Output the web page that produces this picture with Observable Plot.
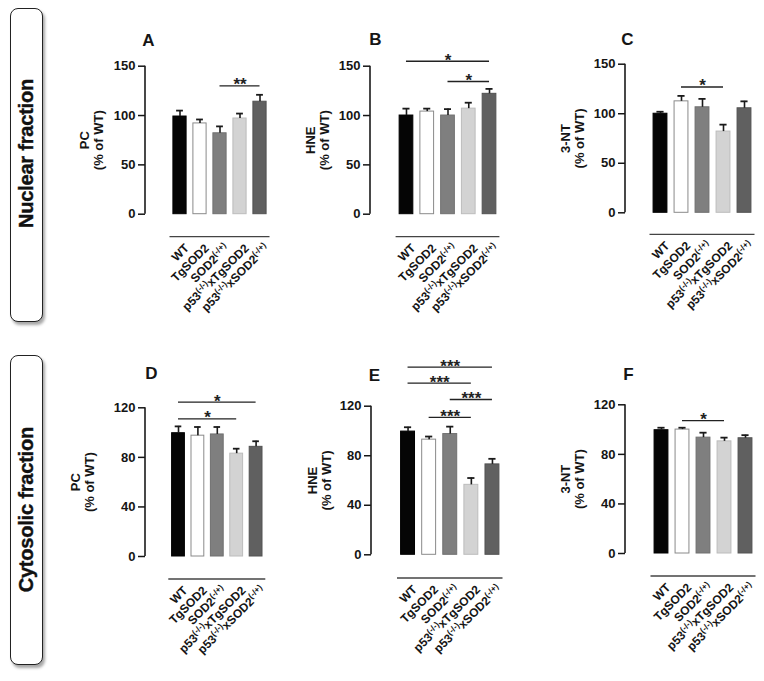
<!DOCTYPE html>
<html>
<head>
<meta charset="utf-8">
<script src="https://cdn.jsdelivr.net/npm/d3@7"></script>
<script src="https://cdn.jsdelivr.net/npm/@observablehq/plot@0.6"></script>
<style>
  html, body { margin: 0; padding: 0; background: #fff; }
  #page { position: relative; width: 764px; height: 681px; overflow: hidden; background: #fff;
          font-family: "Liberation Sans", Arial, sans-serif; }
  .panel { position: absolute; }
  .rowbox { position: absolute; border: 1.5px solid #222; border-radius: 8px; box-sizing: border-box;
            box-shadow: 2px 3px 3px rgba(0,0,0,0.35); background: #fff;
            display: flex; align-items: center; justify-content: center; }
  .rowbox span { writing-mode: vertical-rl; transform: rotate(180deg); font-weight: bold; font-size: 20px;
                 color: #111; white-space: nowrap; letter-spacing: -0.2px; -webkit-text-stroke: 0.4px #111; }
</style>
</head>
<body>
<div id="page"></div>
<script>
// ---------------- data ----------------
const groups = ["WT", "TgSOD2", "SOD2^(-/+)", "p53^(-/-)xTgSOD2", "p53^(-/-)xSOD2^(-/+)"];
const rowLabels = ["Nuclear fraction", "Cytosolic fraction"];
const letters = ["A", "B", "C", "D", "E", "F"];
const yLabels = ["PC\n(% of WT)", "HNE\n(% of WT)", "3-NT\n(% of WT)", "PC\n(% of WT)", "HNE\n(% of WT)", "3-NT\n(% of WT)"];
const ticksNuclear = [0, 50, 100, 150];
const ticksCytosolic = [0, 40, 80, 120];

// means and SEM (% of WT)
const pcNucMean  = [99, 92, 82, 97, 114];
const pcNucSem   = [6, 4, 7, 5, 7];
const hneNucMean = [100, 104, 100, 107, 122];
const hneNucSem  = [7, 3, 6.5, 6, 5];
const ntNucMean  = [100, 112.5, 106.5, 82, 105.5];
const ntNucSem   = [2, 5.5, 8.5, 7, 7];
const pcCytMean  = [99.5, 97.5, 98.5, 83, 88.5];
const pcCytSem   = [5.5, 7, 6, 4, 4.5];
const hneCytMean = [99.5, 93, 97.5, 56.5, 73];
const hneCytSem  = [3.5, 2.5, 6, 5.5, 4.5];
const ntCytMean  = [99.5, 100, 93.5, 90.5, 93];
const ntCytSem   = [2, 1.5, 4, 3, 2.5];

// significance brackets: [from group, to group, height, label]
const sigA = [[2, 4, 130, "**"]];
const sigB = [[0, 4, 155, "*"], [2, 4, 134.5, "*"]];
const sigC = [[1, 3, 127, "*"]];
const sigD = [[0, 4, 124.5, "*"], [0, 3, 111, "*"]];
const sigE = [[0, 4, 151.5, "***"], [0, 3, 138.6, "***"], [2, 4, 125.4, "***"], [1, 3, 111, "***"]];
const sigF = [[1, 3, 107.3, "*"]];

// ---------------- styles / layout ----------------
const barFill   = ["#050505", "#ffffff", "#7f7f7f", "#d3d3d3", "#606060"];
const barStroke = ["#000000", "#8a8a8a", "#707070", "#bcbcbc", "#525252"];
const FONT = '"Liberation Sans", Arial, sans-serif';

const layout = [
  {ox: 50,  oy: 0,   w: 235, h: 340, axisX: 145, y0: 213.7, yTop: 65.7, r0: 169.5, r1: 269.5, lineY: 236.7, labDx: -54, lx: 3, ly: -25.7},
  {ox: 285, oy: 0,   w: 235, h: 340, axisX: 370, y0: 213.7, yTop: 65.7, r0: 395.6, r1: 499.4, lineY: 236.7, labDx: -53, lx: 5, ly: -26.7},
  {ox: 520, oy: 0,   w: 244, h: 340, axisX: 625, y0: 212.3, yTop: 63.7, r0: 649.5, r1: 754.5, lineY: 234.3, labDx: -53, lx: 2, ly: -24.7},
  {ox: 50,  oy: 340, w: 235, h: 341, axisX: 145, y0: 556.0, yTop: 407.3, r0: 168.3, r1: 265.3, lineY: 579.0, labDx: -63, lx: 6, ly: -34},
  {ox: 285, oy: 340, w: 235, h: 341, axisX: 371, y0: 554.3, yTop: 405.7, r0: 397.0, r1: 502.5, lineY: 578.0, labDx: -52, lx: 3, ly: -30.7},
  {ox: 520, oy: 340, w: 244, h: 341, axisX: 625, y0: 553.0, yTop: 404.3, r0: 650.5, r1: 755.5, lineY: 576.0, labDx: -53, lx: 3, ly: -30.3}
];
const rowBoxes = [
  {left: 10, top: 8, width: 33, height: 314, padBottom: 22},
  {left: 10, top: 355, width: 33, height: 310, padBottom: 0}
];

const page = document.getElementById("page");

// row label boxes
rowLabels.forEach((t, k) => {
  const b = rowBoxes[k];
  const div = document.createElement("div");
  div.className = "rowbox";
  Object.assign(div.style, {left: b.left + "px", top: b.top + "px", width: b.width + "px", height: b.height + "px", paddingBottom: b.padBottom + "px"});
  const span = document.createElement("span");
  span.textContent = t;
  div.appendChild(span);
  page.appendChild(div);
});

function superscriptLabels(svg) {
  svg.querySelectorAll('g[aria-label="x-axis tick label"] text').forEach((node) => {
    const raw = node.textContent;
    const parts = raw.split(/\^(\([^)]*\))/);
    while (node.firstChild) node.removeChild(node.firstChild);
    let raised = false;
    parts.forEach((p, k) => {
      if (!p) return;
      const ts = document.createElementNS("http://www.w3.org/2000/svg", "tspan");
      ts.textContent = p;
      if (k % 2 === 1) {
        ts.setAttribute("font-size", "8.5");
        ts.setAttribute("dy", "-4.5");
        raised = true;
      } else if (raised) {
        ts.setAttribute("dy", "4.5");
        raised = false;
      }
      node.appendChild(ts);
    });
  });
}

function drawPanel(k, means, sems, sig, ticks) {
  const cfg = layout[k];
  const ymax = ticks[ticks.length - 1];
  const data = groups.map((g, i) => ({i, group: g, mean: means[i], sem: sems[i]}));
  const sigData = sig.map(([a, b, h, t]) => ({a, b, h, t}));
  const plot = Plot.plot({
    width: cfg.w,
    height: cfg.h,
    marginLeft: cfg.axisX - cfg.ox,
    marginTop: cfg.yTop - cfg.oy,
    marginBottom: cfg.oy + cfg.h - cfg.y0,
    marginRight: cfg.ox + cfg.w - cfg.r1,
    x: {domain: [-0.5, groups.length - 0.5], range: [cfg.r0 - cfg.ox, cfg.r1 - cfg.ox]},
    y: {domain: [0, ymax]},
    color: {type: "identity"},
    style: {background: "transparent", fontFamily: FONT, color: "#151515", overflow: "visible"},
    marks: [
      Plot.rect(data, {x1: (d) => d.i - 0.33, x2: (d) => d.i + 0.33, y1: 0, y2: "mean",
                       fill: (d) => barFill[d.i], stroke: (d) => barStroke[d.i], strokeWidth: 1}),
      Plot.ruleX(data, {x: "i", y1: "mean", y2: (d) => d.mean + d.sem, stroke: "#1a1a1a", strokeWidth: 1.6}),
      Plot.ruleY(data, {y: (d) => d.mean + d.sem, x1: (d) => d.i - 0.17, x2: (d) => d.i + 0.17, stroke: "#1a1a1a", strokeWidth: 1.8}),
      Plot.ruleY(sigData, {y: "h", x1: "a", x2: "b", stroke: "#222", strokeWidth: 1.3}),
      Plot.text(sigData, {x: (d) => (d.a + d.b) / 2, y: "h", text: "t", dy: -1, fontSize: 17, fontWeight: "bold",
                          fill: "#222", ariaLabel: "significance"}),
      Plot.axisY({ticks, tickSize: 7, tickPadding: 3, fontSize: 13, fontWeight: "bold", label: null, strokeWidth: 1.5}),
      Plot.axisX({ticks: groups.map((g, i) => i), tickFormat: (i) => groups[i], tickRotate: -45, tickSize: 0, tickPadding: 0,
                  label: null, fontSize: 12, fontWeight: "bold", dx: 7, dy: cfg.lineY - cfg.y0 + 9}),
      Plot.text([yLabels[k]], {frameAnchor: "left", text: (d) => d, rotate: -90, dx: cfg.labDx, textAnchor: "middle",
                               lineAnchor: "middle", fontSize: 13, fontWeight: "bold", lineHeight: 1.12}),
      Plot.text([letters[k]], {frameAnchor: "top-left", text: (d) => d, dx: cfg.lx, dy: cfg.ly, textAnchor: "middle",
                               lineAnchor: "middle", fontSize: 17, fontWeight: "bold"})
    ]
  });
  const x = plot.scale("x"), y = plot.scale("y");
  const svg = d3.select(plot);
  svg.selectAll('g[aria-label="significance"] text').attr("letter-spacing", "1.2");
  // y axis line
  svg.append("line")
    .attr("x1", cfg.axisX - cfg.ox).attr("x2", cfg.axisX - cfg.ox)
    .attr("y1", y.apply(0)).attr("y2", y.apply(ymax))
    .attr("stroke", "#1a1a1a").attr("stroke-width", 1.6);
  // grouping line beneath bars
  svg.append("line")
    .attr("x1", x.range[0]).attr("x2", x.range[1])
    .attr("y1", y.apply(0) + (cfg.lineY - cfg.y0)).attr("y2", y.apply(0) + (cfg.lineY - cfg.y0))
    .attr("stroke", "#444").attr("stroke-width", 1.3);
  superscriptLabels(plot);
  plot.classList.add("panel");
  plot.style.left = cfg.ox + "px";
  plot.style.top = cfg.oy + "px";
  plot.style.position = "absolute";
  page.appendChild(plot);
}

drawPanel(0, pcNucMean, pcNucSem, sigA, ticksNuclear);
drawPanel(1, hneNucMean, hneNucSem, sigB, ticksNuclear);
drawPanel(2, ntNucMean, ntNucSem, sigC, ticksNuclear);
drawPanel(3, pcCytMean, pcCytSem, sigD, ticksCytosolic);
drawPanel(4, hneCytMean, hneCytSem, sigE, ticksCytosolic);
drawPanel(5, ntCytMean, ntCytSem, sigF, ticksCytosolic);
</script>
</body>
</html>
